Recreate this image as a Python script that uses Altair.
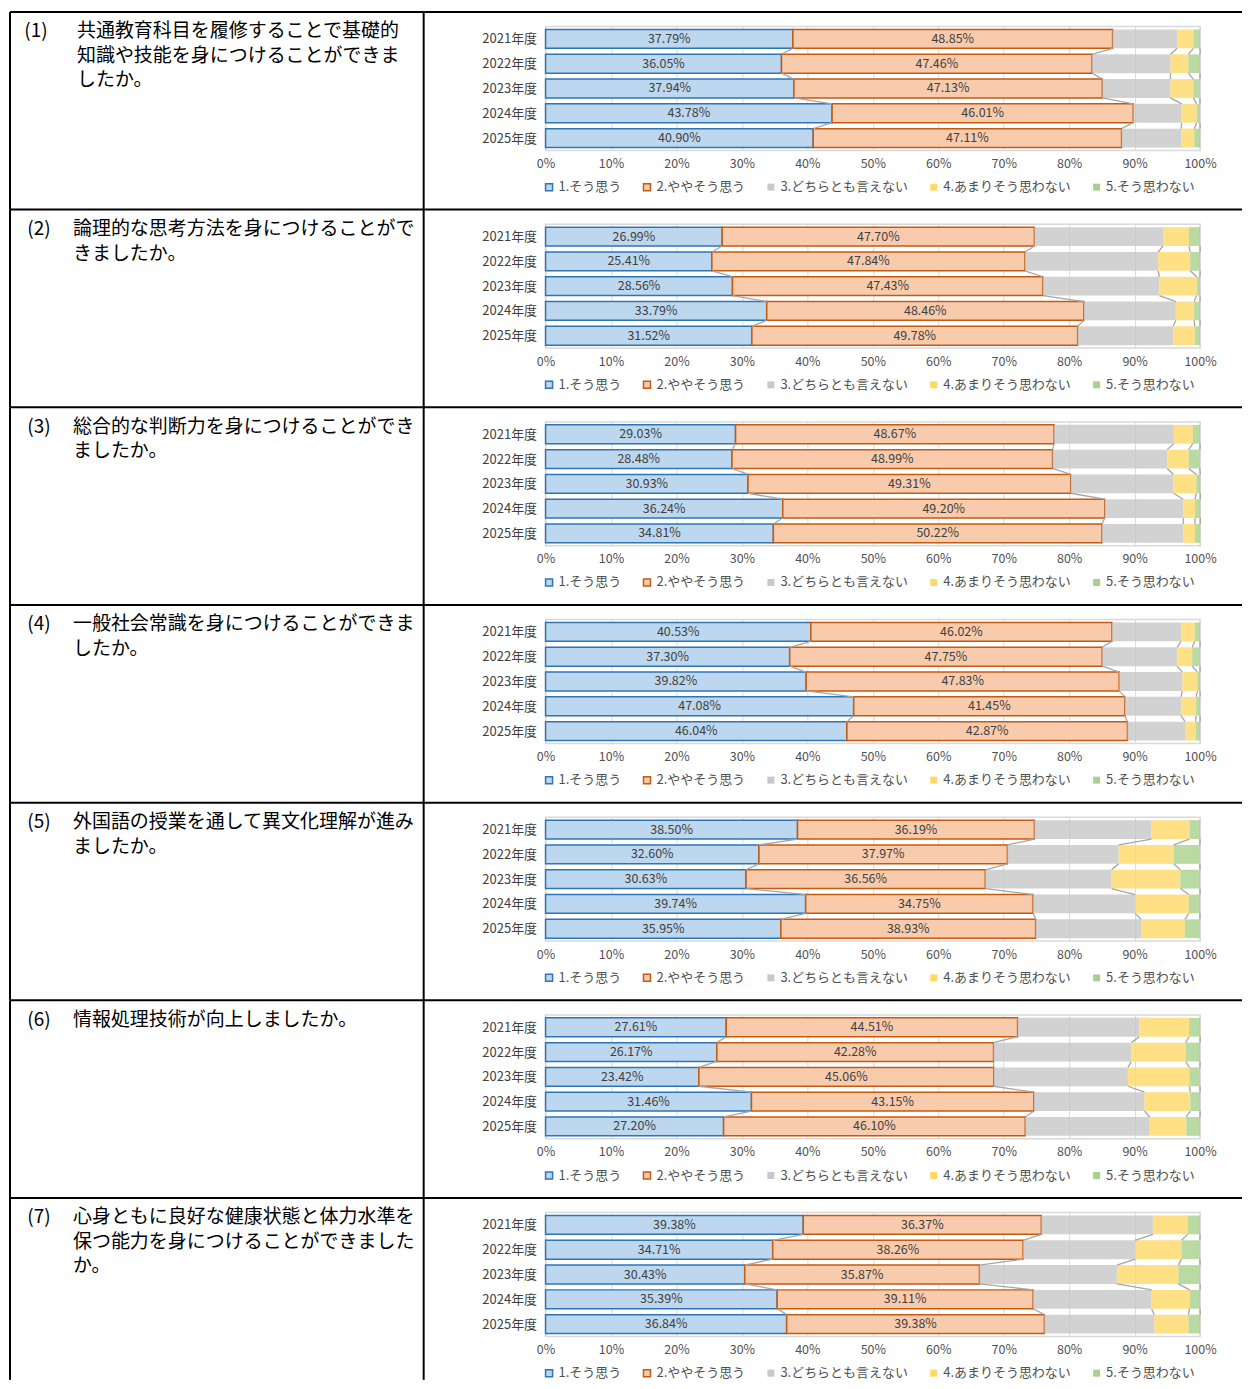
import altair as alt
import pandas as pd

FONT = "Noto Sans CJK JP"

years = ["2021年度", "2022年度", "2023年度", "2024年度", "2025年度"]
cats = ["1.そう思う", "2.ややそう思う", "3.どちらとも言えない", "4.あまりそう思わない", "5.そう思わない"]
nums = ["(1)", "(2)", "(3)", "(4)", "(5)", "(6)", "(7)"]
questions = [
    ["共通教育科目を履修することで基礎的", "知識や技能を身につけることができま", "したか。"],
    ["論理的な思考方法を身につけることがで", "きましたか。"],
    ["総合的な判断力を身につけることができ", "ましたか。"],
    ["一般社会常識を身につけることができま", "したか。"],
    ["外国語の授業を通して異文化理解が進み", "ましたか。"],
    ["情報処理技術が向上しましたか。"],
    ["心身ともに良好な健康状態と体力水準を", "保つ能力を身につけることができました", "か。"],
]

c1 = [[37.79, 36.05, 37.94, 43.78, 40.90],
      [26.99, 25.41, 28.56, 33.79, 31.52],
      [29.03, 28.48, 30.93, 36.24, 34.81],
      [40.53, 37.30, 39.82, 47.08, 46.04],
      [38.50, 32.60, 30.63, 39.74, 35.95],
      [27.61, 26.17, 23.42, 31.46, 27.20],
      [39.38, 34.71, 30.43, 35.39, 36.84]]
c2 = [[48.85, 47.46, 47.13, 46.01, 47.11],
      [47.70, 47.84, 47.43, 48.46, 49.78],
      [48.67, 48.99, 49.31, 49.20, 50.22],
      [46.02, 47.75, 47.83, 41.45, 42.87],
      [36.19, 37.97, 36.56, 34.75, 38.93],
      [44.51, 42.28, 45.06, 43.15, 46.10],
      [36.37, 38.26, 35.87, 39.11, 39.38]]
c3 = [[9.86, 12.0, 10.4, 7.4, 9.1],
      [19.66, 20.35, 17.8, 14.05, 14.6],
      [18.3, 17.5, 15.7, 12.0, 12.4],
      [10.55, 11.45, 9.65, 8.57, 8.8],
      [17.9, 17.0, 19.3, 15.6, 16.1],
      [18.6, 21.05, 20.5, 16.9, 19.0],
      [17.05, 17.1, 21.0, 18.1, 16.8]]
c4 = [[2.5, 2.7, 3.5, 2.3, 2.0],
      [3.95, 4.9, 5.7, 2.8, 3.3],
      [2.9, 3.3, 3.5, 1.8, 1.8],
      [2.1, 2.3, 2.3, 2.3, 1.6],
      [5.8, 8.4, 10.5, 8.2, 6.7],
      [7.6, 8.3, 9.4, 7.0, 5.6],
      [5.3, 7.1, 9.4, 5.8, 5.2]]
c5 = [[1.0, 1.8, 1.0, 0.5, 0.9],
      [1.7, 1.5, 0.5, 0.9, 0.8],
      [1.1, 1.7, 0.6, 0.8, 0.8],
      [0.8, 1.2, 0.4, 0.6, 0.7],
      [1.6, 4.0, 3.0, 1.7, 2.3],
      [1.7, 2.2, 1.6, 1.5, 2.1],
      [1.9, 2.8, 3.3, 1.6, 1.8]]

fills = ["#BDD7EE", "#F8CBAD", "#C8C8C8", "#FFD966", "#A9D18E"]
strokes = ["#2E75B6", "#C55A11", "transparent", "transparent", "transparent"]

# layout constants (pixels, relative to each panel's plot origin)
W, H = 655, 124
TOP = -14.6          # table border line above each panel
ROW_H = 197.83
LEFT = -536          # table outer left border
MID = -122           # divider between question and chart cells
RIGHT = 697
year_expr = "[" + ",".join("'%s'" % y for y in years) + "][datum.value]"

xs = alt.Scale(domain=[0, 100], nice=False, zero=False)
ys = alt.Scale(domain=[-0.5, 4.5], nice=False, zero=False, reverse=True)

x_axis = alt.Axis(values=list(range(0, 101, 10)), labelExpr="datum.value + '%'", grid=True,
                  gridColor="#D9D9D9", gridWidth=1, ticks=False, domain=False, labelFontSize=12.5,
                  labelColor="#505050", labelPadding=7, title=None, labelFont=FONT, labelFlush=False)
y_axis = alt.Axis(values=[0, 1, 2, 3, 4], labelExpr=year_expr, ticks=False, domain=False, grid=False,
                  labelFontSize=13, labelColor="#404040", labelPadding=9, title=None, labelFont=FONT)
leg = alt.Legend(orient="none", legendX=-3, legendY=154, direction="horizontal", columns=5, title=None,
                 symbolType="square", symbolSize=49, symbolStrokeWidth=1.5, labelFont=FONT,
                 labelFontSize=13, labelColor="#505050", labelOffset=3, columnPadding=19, padding=0)

one = pd.DataFrame({"a": [0]})


def rule(x=None, x2=None, y=None, y2=None):
    enc = {}
    if x is not None:
        enc["x"] = alt.value(x)
    if x2 is not None:
        enc["x2"] = alt.value(x2)
    if y is not None:
        enc["y"] = alt.value(y)
    if y2 is not None:
        enc["y2"] = alt.value(y2)
    return alt.Chart(one).mark_rule(color="black", strokeWidth=2).encode(**enc)


def txt(s, x, y, align="left"):
    return alt.Chart(one).mark_text(align=align, baseline="middle", fontSize=19, font=FONT,
                                    color="black").encode(x=alt.value(x), y=alt.value(y), text=alt.value(s))


rows = []
for r in range(7):
    recs = []
    for i in range(len(years)):
        vals = [c1[r][i], c2[r][i], c3[r][i], c4[r][i], c5[r][i]]
        cum = 0.0
        for k, v in enumerate(vals):
            recs.append(dict(idx=i, k=k + 1, cat=cats[k], value=v, x0=cum, x1=cum + v))
            cum += v
    df = pd.DataFrame(recs)
    sl = []
    for k in range(1, 6):
        ends = df[df.k == k].sort_values("idx").x1.tolist()
        for i in range(len(years) - 1):
            sl.append(dict(i=i, xa=ends[i], xb=ends[i + 1]))
    sl = pd.DataFrame(sl)

    bars = alt.Chart(df).transform_calculate(
        ya="datum.idx - 0.38", yb="datum.idx + 0.38"
    ).mark_bar(strokeWidth=1.5).encode(
        x=alt.X("x0:Q", scale=xs, axis=x_axis),
        x2="x1:Q",
        y=alt.Y("ya:Q", scale=ys, axis=y_axis),
        y2="yb:Q",
        fill=alt.Fill("cat:N", scale=alt.Scale(domain=cats, range=fills), legend=leg),
        stroke=alt.Stroke("cat:N", scale=alt.Scale(domain=cats, range=strokes), legend=leg),
        opacity=alt.condition("datum.k >= 3", alt.value(0.8), alt.value(1.0)),
    )
    series = alt.Chart(sl).transform_calculate(
        ya="datum.i + 0.38", yb="datum.i + 0.62"
    ).mark_rule(color="#A6A6A6", strokeWidth=1.3).encode(
        x=alt.X("xa:Q", scale=xs, axis=x_axis), x2="xb:Q",
        y=alt.Y("ya:Q", scale=ys, axis=y_axis), y2="yb:Q",
    )
    labels = alt.Chart(df[df.k <= 2]).transform_calculate(
        xm="(datum.x0 + datum.x1) / 2", lbl="format(datum.value, '.2f') + '%'"
    ).mark_text(fontSize=12.5, color="#404040", font=FONT).encode(
        x=alt.X("xm:Q", scale=xs, axis=x_axis),
        y=alt.Y("idx:Q", scale=ys, axis=y_axis),
        text="lbl:N",
    )

    bottom = TOP + ROW_H if r < 6 else 167.4
    layers = [bars, series, labels,
              rule(x=LEFT, x2=RIGHT, y=TOP),
              rule(x=LEFT, y=TOP, y2=bottom),
              rule(x=MID, y=TOP, y2=bottom)]
    num_x = -510 if r == 0 else -507
    text_x = -469 if r == 0 else -473
    layers.append(txt(nums[r], num_x, TOP + 19.5, align="center"))
    for j, line in enumerate(questions[r]):
        layers.append(txt(line, text_x, TOP + 19.5 + 24.5 * j))
    rows.append(alt.layer(*layers).properties(width=W, height=H))

chart = alt.vconcat(*rows, spacing=ROW_H - H, bounds="flush").resolve_scale(
    x="independent", y="independent", fill="independent", stroke="independent"
).resolve_legend(fill="independent", stroke="independent").properties(
    padding={"left": 0, "top": 1, "right": 0, "bottom": 0}
).configure_view(stroke="#D9D9D9", strokeWidth=1.5)

chart.save("out.html", embed_options={"renderer": "svg", "actions": False})
